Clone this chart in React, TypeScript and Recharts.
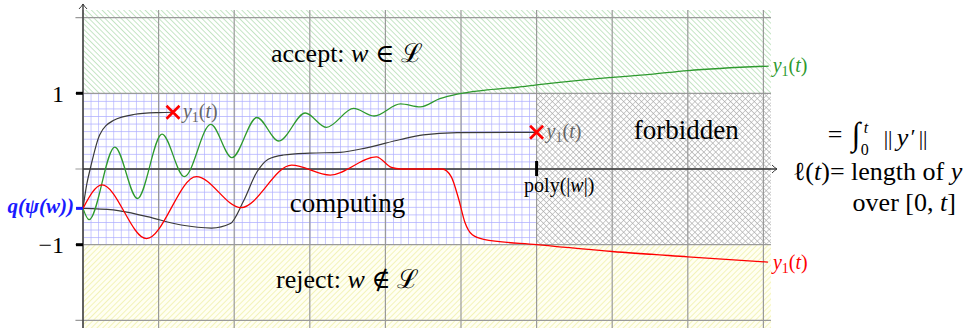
import React from 'react';
import { ComposedChart, Line, XAxis, YAxis, ReferenceArea, ReferenceLine, ReferenceDot } from 'recharts';

// ---------- data ----------
const gridXs = [0, 1, 2, 3, 4, 5, 6, 7, 8, 9];
const gridYs = [-2, -1, 0, 1, 2];
const yTickLabels = [
  { v: 1, label: '1' },
  { v: -1, label: '\u22121' },
];
const qPsiValue = -0.52;
const polyValue = 6;

const greenCurve: [number, number][] = [
  [0, -0.52], [0.08, -0.67], [0.42, 0.29], [0.72, -0.39], [1.045, 0.46], [1.34, -0.1],
  [1.69, 0.59], [1.97, 0.15], [2.3, 0.68], [2.59, 0.37], [2.94, 0.74], [3.22, 0.55],
  [3.58, 0.8], [3.85, 0.7], [4.2, 0.86], [4.46, 0.82], [4.72, 0.93], [4.95, 0.99],
  [5.3, 1.04], [5.75, 1.08], [6.0, 1.11], [6.66, 1.18], [7.5, 1.25], [8.0, 1.3], [9.07, 1.36],
];
const blackFastCurve: [number, number][] = [
  [0, -0.52], [0.05, -0.2], [0.1, 0.02], [0.22, 0.45], [0.4, 0.64], [0.67, 0.72], [1.0, 0.745], [1.19, 0.75],
];
const blackSlowCurve: [number, number][] = [
  [0, -0.52], [0.4, -0.54], [0.85, -0.63], [1.3, -0.74], [1.7, -0.78], [1.95, -0.72], [2.12, -0.43],
  [2.3, -0.04], [2.45, 0.13], [2.65, 0.185], [3.0, 0.21], [3.4, 0.22], [3.75, 0.28], [4.2, 0.39],
  [4.5, 0.45], [4.95, 0.48], [6.0, 0.485],
];
const redCurve: [number, number][] = [
  [0, -0.52], [0.25, -0.21], [0.84, -0.92], [1.5, -0.1], [2.09, -0.51], [2.76, 0.05], [3.27, -0.08],
  [3.88, 0.16], [4.08, 0.02], [4.2, 0], [4.75, 0], [4.87, -0.1], [4.97, -0.4], [5.05, -0.7],
  [5.15, -0.87], [5.3, -0.93], [6.0, -1.0], [7.0, -1.09], [8.0, -1.16], [9.06, -1.23],
];
const crossMarks: [number, number][] = [
  [1.19, 0.75],
  [6.0, 0.485],
];

const toRows = (c: [number, number][]) => c.map(([t, v]) => ({ t, v }));

// ---------- styles ----------
const SERIF = '"Liberation Serif", "DejaVu Serif", serif';
const TS: React.CSSProperties = { fontFamily: SERIF };
const GREEN = '#2e9a2e';
const RED = '#ff0000';
const DARK = '#3a3a3a';
const BLUE = '#1a1aff';
const GRID = '#9a9a9a';

const X0 = -0.1, X1 = 9.2, Y0 = -2.1, Y1 = 2.2;
const PX_PER_X = 75.6, PX_PER_Y = 75.7;
const AXIS_PX_X = 83, AXIS_PX_Y = 169;
const margin = {
  left: AXIS_PX_X + X0 * PX_PER_X,
  right: 976 - (AXIS_PX_X + X1 * PX_PER_X),
  top: AXIS_PX_Y - Y1 * PX_PER_Y,
  bottom: 332 - (AXIS_PX_Y - Y0 * PX_PER_Y),
};

const Y1Text = ({ x, y, color, size = 20 }: any) => (
  <text x={x} y={y} fill={color} style={TS} fontSize={size}>
    <tspan fontStyle="italic">y</tspan>
    <tspan fontSize={size * 0.7} dy={4}>1</tspan>
    <tspan dy={-4}>(</tspan>
    <tspan fontStyle="italic">t</tspan>
    <tspan>)</tspan>
  </text>
);

const Cross = ({ cx, cy }: any) => (
  <g>
    <path d={`M${cx - 6.5},${cy - 6.5}L${cx + 6.5},${cy + 6.5}M${cx - 6.5},${cy + 6.5}L${cx + 6.5},${cy - 6.5}`} stroke={RED} strokeWidth={2.6} />
    <Y1Text x={cx + 10} y={cy + 5.5} color="#666" />
  </g>
);

export default function App() {
  return (
    <div style={{ position: 'absolute', left: 0, top: 0, width: 976, height: 332, background: '#fff', fontFamily: SERIF }}>
      <ComposedChart width={976} height={332} margin={margin} style={TS}>
        <defs>
          <pattern id="greenHatch" patternUnits="userSpaceOnUse" width={3.8} height={3.8} patternTransform="rotate(-45)">
            <line x1={0} y1={0} x2={0} y2={3.8} stroke="#96d096" strokeWidth={1.1} />
          </pattern>
          <pattern id="yellowHatch" patternUnits="userSpaceOnUse" width={4} height={4} patternTransform="rotate(45)">
            <rect width={4} height={4} fill="#fffff2" />
            <line x1={0} y1={0} x2={0} y2={4} stroke="#ecec94" strokeWidth={1.2} />
          </pattern>
          <pattern id="blueGrid" patternUnits="userSpaceOnUse" x={AXIS_PX_X} y={AXIS_PX_Y} width={PX_PER_X / 10} height={PX_PER_Y / 10}>
            <rect width={PX_PER_X / 10} height={PX_PER_Y / 10} fill="#fff" />
            <path d={`M0,0L${PX_PER_X / 10},0M0,0L0,${PX_PER_Y / 10}`} stroke="#adadff" strokeWidth={1.3} />
          </pattern>
          <pattern id="crossHatch" patternUnits="userSpaceOnUse" width={4.2} height={4.2} patternTransform="rotate(45)">
            <rect width={4.2} height={4.2} fill="#fff" />
            <path d="M0,0L4.2,0M0,0L0,4.2" stroke="#a8a8a8" strokeWidth={1.1} />
          </pattern>
        </defs>
        <XAxis type="number" dataKey="t" domain={[X0, X1]} hide allowDataOverflow />
        <YAxis type="number" dataKey="v" domain={[Y0, Y1]} hide allowDataOverflow width={0} />

        <ReferenceArea x1={0} x2={9.1} y1={1} y2={2.1} fill="url(#greenHatch)" fillOpacity={1} stroke="none" />
        <ReferenceArea x1={0} x2={6} y1={-1} y2={1} fill="url(#blueGrid)" fillOpacity={1} stroke="none" />
        <ReferenceArea x1={6} x2={9.1} y1={-1} y2={1} fill="url(#crossHatch)" fillOpacity={1} stroke="none" />
        <ReferenceArea x1={0} x2={9.1} y1={-2.1} y2={-1} fill="url(#yellowHatch)" fillOpacity={1} stroke="none" />

        {gridXs.map((g) => (
          <ReferenceLine key={'gx' + g} segment={[{ x: g, y: -2.1 }, { x: g, y: 2.1 }]} stroke={GRID} strokeWidth={1.2} />
        ))}
        {gridYs.map((g) => (
          <ReferenceLine key={'gy' + g} segment={[{ x: -0.1, y: g }, { x: 9.1, y: g }]} stroke={GRID} strokeWidth={1.2} />
        ))}

        <ReferenceLine segment={[{ x: 0, y: -2.1 }, { x: 0, y: 2.18 }]} stroke={DARK} strokeWidth={1.4} />
        <ReferenceLine segment={[{ x: 0, y: 0 }, { x: 9.18, y: 0 }]} stroke={DARK} strokeWidth={1.6} />
        <ReferenceDot x={0} y={2.18} ifOverflow="visible" shape={(p: any) => (
          <path d={`M${p.cx - 4},${p.cy + 5}Q${p.cx - 1},${p.cy + 2} ${p.cx},${p.cy}Q${p.cx + 1},${p.cy + 2} ${p.cx + 4},${p.cy + 5}`} stroke={DARK} strokeWidth={1} fill="none" />
        )} />
        <ReferenceDot x={9.18} y={0} ifOverflow="visible" shape={(p: any) => (
          <path d={`M${p.cx - 5},${p.cy - 4}Q${p.cx - 2},${p.cy - 1} ${p.cx},${p.cy}Q${p.cx - 2},${p.cy + 1} ${p.cx - 5},${p.cy + 4}`} stroke={DARK} strokeWidth={1} fill="none" />
        )} />

        {/* y tick marks and labels */}
        {yTickLabels.map((tk) => (
          <ReferenceDot key={'yt' + tk.v} x={0} y={tk.v} ifOverflow="visible" shape={(p: any) => (
            <g>
              <line x1={p.cx - 7} x2={p.cx} y1={p.cy} y2={p.cy} stroke="#000" strokeWidth={3} />
              <text x={p.cx - 19} y={p.cy + 8.5} textAnchor="end" style={TS} fontSize={24} fill="#000">{tk.label}</text>
            </g>
          )} />
        ))}
        <ReferenceDot x={0} y={qPsiValue} ifOverflow="visible" shape={(p: any) => (
          <g>
            <line x1={p.cx - 7} x2={p.cx} y1={p.cy} y2={p.cy} stroke={BLUE} strokeWidth={3} />
            <text x={p.cx - 9} y={p.cy + 5} textAnchor="end" style={TS} fontSize={21} fontWeight="bold" fontStyle="italic" fill={BLUE}>q(ψ(w))</text>
          </g>
        )} />
        <ReferenceDot x={polyValue} y={0} ifOverflow="visible" shape={(p: any) => (
          <g>
            <line x1={p.cx} x2={p.cx} y1={p.cy - 8} y2={p.cy + 7} stroke="#000" strokeWidth={3} />
            <text x={p.cx - 12.5} y={p.cy + 23} style={TS} fontSize={20} fill="#000">
              poly(|<tspan fontStyle="italic">w</tspan>|)
            </text>
          </g>
        )} />

        {/* region labels */}
        <ReferenceDot x={3.49} y={1.41} ifOverflow="visible" shape={(p: any) => (
          <text x={p.cx} y={p.cy} textAnchor="middle" style={TS} fontSize={26} fill="#000">
            accept: <tspan fontStyle="italic">w</tspan> ∈ ℒ
          </text>
        )} />
        <ReferenceDot x={3.5} y={-0.568} ifOverflow="visible" shape={(p: any) => (
          <text x={p.cx} y={p.cy} textAnchor="middle" style={TS} fontSize={27} fill="#000"><tspan>computing</tspan></text>
        )} />
        <ReferenceDot x={3.5} y={-1.572} ifOverflow="visible" shape={(p: any) => (
          <text x={p.cx} y={p.cy} textAnchor="middle" style={TS} fontSize={26} fill="#000">
            reject: <tspan fontStyle="italic">w</tspan> ∉ ℒ
          </text>
        )} />
        <ReferenceDot x={7.98} y={0.396} ifOverflow="visible" shape={(p: any) => (
          <text x={p.cx} y={p.cy} textAnchor="middle" style={TS} fontSize={27} fill="#000"><tspan>forbidden</tspan></text>
        )} />

        {/* right-hand annotation */}
        <ReferenceDot x={9.85} y={0.304} ifOverflow="visible" shape={(p: any) => (
          <g fill="#000" style={TS}>
            <text x={p.cx} y={p.cy - 3} fontSize={26} style={TS}>=</text>
            <text transform={`translate(${p.cx + 24},${p.cy - 1}) scale(1.05,1.09)`} fontSize={30} style={TS}>∫</text>
            <text x={p.cx + 36} y={p.cy - 13} fontSize={16} fontStyle="italic" style={TS}>t</text>
            <text x={p.cx + 33} y={p.cy + 9} fontSize={16} style={TS}>0</text>
            <text x={p.cx + 56} y={p.cy - 1} fontSize={22} style={TS}>||</text>
            <text x={p.cx + 69} y={p.cy} fontSize={26} fontStyle="italic" style={TS}>y</text>
            <text x={p.cx + 83} y={p.cy - 2} fontSize={22} style={TS}>′</text>
            <text x={p.cx + 91} y={p.cy - 1} fontSize={22} style={TS}>||</text>
          </g>
        )} />
        <ReferenceDot x={9.39} y={-0.145} ifOverflow="visible" shape={(p: any) => (
          <text x={p.cx} y={p.cy} style={TS} fontSize={26} fill="#000">
            ℓ(<tspan fontStyle="italic">t</tspan>)<tspan>= length of </tspan><tspan fontStyle="italic">y</tspan>
          </text>
        )} />
        <ReferenceDot x={10.18} y={-0.555} ifOverflow="visible" shape={(p: any) => (
          <text x={p.cx} y={p.cy} style={TS} fontSize={26} fill="#000">
            over [0, <tspan fontStyle="italic">t</tspan>]
          </text>
        )} />

        {/* curves */}
        <Line data={toRows(blackFastCurve)} dataKey="v" type="monotone" dot={false} stroke={DARK} strokeWidth={1.2} isAnimationActive={false} />
        <Line data={toRows(blackSlowCurve)} dataKey="v" type="monotone" dot={false} stroke={DARK} strokeWidth={1.2} isAnimationActive={false} />
        <Line data={toRows(greenCurve)} dataKey="v" type="monotone" dot={false} stroke={GREEN} strokeWidth={1.3} isAnimationActive={false} />
        <Line data={toRows(redCurve)} dataKey="v" type="monotone" dot={false} stroke={RED} strokeWidth={1.3} isAnimationActive={false} />

        {crossMarks.map(([t, v]) => (
          <ReferenceDot key={'cm' + t} x={t} y={v} ifOverflow="visible" shape={(p: any) => <Cross cx={p.cx} cy={p.cy} />} />
        ))}
        <ReferenceDot x={greenCurve[greenCurve.length - 1][0]} y={greenCurve[greenCurve.length - 1][1]} ifOverflow="visible" shape={(p: any) => (
          <Y1Text x={p.cx + 4} y={p.cy + 6} color={GREEN} />
        )} />
        <ReferenceDot x={redCurve[redCurve.length - 1][0]} y={redCurve[redCurve.length - 1][1]} ifOverflow="visible" shape={(p: any) => (
          <Y1Text x={p.cx + 5} y={p.cy + 7} color={RED} />
        )} />
      </ComposedChart>
    </div>
  );
}
